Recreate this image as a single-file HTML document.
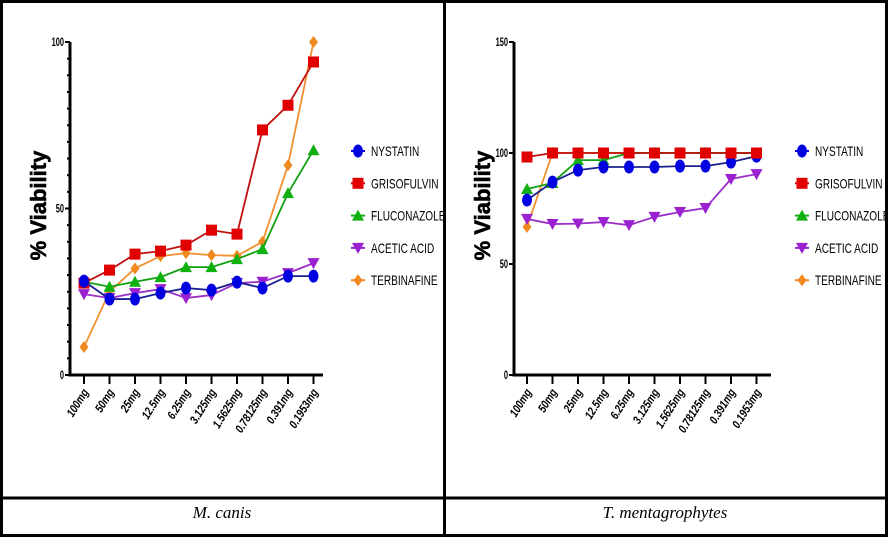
<!DOCTYPE html>
<html><head><meta charset="utf-8"><style>
html,body{margin:0;padding:0;background:#fff}
svg{display:block}
text{font-family:"Liberation Sans",sans-serif}
</style></head><body>
<svg id="s" width="888" height="537" viewBox="0 0 888 537" xmlns="http://www.w3.org/2000/svg">
<rect x="0" y="0" width="888" height="537" fill="#fff"/>
<g stroke="#000" stroke-width="3" fill="none">
<line x1="0" y1="1.5" x2="888" y2="1.5"/>
<line x1="1.5" y1="0" x2="1.5" y2="537"/>
<line x1="886.5" y1="0" x2="886.5" y2="537"/>
<line x1="444.5" y1="0" x2="444.5" y2="537"/>
<line x1="0" y1="498" x2="888" y2="498"/>
<line x1="0" y1="535.5" x2="888" y2="535.5"/>
</g>
<text x="222" y="518" font-style="italic" font-size="17" text-anchor="middle" style="font-family:'Liberation Serif',serif">M. canis</text>
<text x="665" y="518" font-style="italic" font-size="17" text-anchor="middle" style="font-family:'Liberation Serif',serif">T. mentagrophytes</text>
<g id="g"></g>
</svg>
<script>
const NS="http://www.w3.org/2000/svg",g=document.getElementById('g');
function el(t,a,txt){const e=document.createElementNS(NS,t);for(const k in a)e.setAttribute(k,a[k]);if(txt!=null)e.textContent=txt;g.appendChild(e);return e;}
const cats=["100mg","50mg","25mg","12.5mg","6.25mg","3.125mg","1.5625mg","0.78125mg","0.391mg","0.1953mg"];
const cols={blue:"#0000e0",red:"#e00000",green:"#10b010",purple:"#9a20d0",orange:"#f08a20"};
const lcols={blue:"#1a2090",red:"#c01010",green:"#10a010",purple:"#9a30c8",orange:"#f09030"};
function marker(type,x,y,c){
 if(type=="blue")el("ellipse",{cx:x,cy:y,rx:5,ry:6.5,fill:c});
 else if(type=="red")el("rect",{x:x-5.5,y:y-5.5,width:11,height:11,fill:c});
 else if(type=="green")el("polygon",{points:`${x},${y-6} ${x-6},${y+5} ${x+6},${y+5}`,fill:c});
 else if(type=="purple")el("polygon",{points:`${x-6},${y-5} ${x+6},${y-5} ${x},${y+6}`,fill:c});
 else el("polygon",{points:`${x},${y-6} ${x+4.5},${y} ${x},${y+6} ${x-4.5},${y}`,fill:c});
}
function chart(o){
 const {ax,x0,xr,top,bot,max,ticks,minor,data,lx,order}=o;
 const Y=v=>bot-(bot-top)*v/max, X=i=>x0+i*25.5;
 el("line",{x1:ax,y1:top,x2:ax,y2:bot+1.5,stroke:"#000","stroke-width":3});
 el("line",{x1:ax-1.5,y1:bot,x2:xr,y2:bot,stroke:"#000","stroke-width":3});
 ticks.forEach(v=>{el("line",{x1:ax-5,y1:Y(v),x2:ax,y2:Y(v),stroke:"#000","stroke-width":2});
   el("text",{x:ax-6,y:Y(v)+4,"font-size":12,"font-weight":"bold","text-anchor":"end",transform:`translate(${ax-6},0) scale(0.62,1) translate(${-(ax-6)},0)`},v);});
 minor.forEach(v=>el("line",{x1:ax-3,y1:Y(v),x2:ax,y2:Y(v),stroke:"#000","stroke-width":2}));
 cats.forEach((c,i)=>{const x=X(i);el("line",{x1:x,y1:bot,x2:x,y2:bot+9,stroke:"#000","stroke-width":2});
  el("text",{x:0,y:0,"font-size":12,"font-style":"italic","font-weight":"bold","text-anchor":"end",transform:`translate(${x+5},${bot+17}) rotate(-58) scale(0.8,1)`},c);});
 el("text",{x:0,y:0,"font-size":22,"font-weight":"bold","text-anchor":"middle",stroke:"#000","stroke-width":0.6,transform:`translate(${ax-24},${(top+bot)/2-3}) rotate(-90)`},"% Viability");
 order.forEach(k=>{const d=data[k];el("polyline",{points:d.map((v,i)=>X(i)+","+Y(v)).join(" "),fill:"none",stroke:lcols[k],"stroke-width":1.8});
   d.forEach((v,i)=>marker(k,X(i),Y(v),cols[k]));});
 const names=[["blue","NYSTATIN"],["red","GRISOFULVIN"],["green","FLUCONAZOLE"],["purple","ACETIC ACID"],["orange","TERBINAFINE"]];
 names.forEach((n,i)=>{const y=151+i*32.3;el("line",{x1:lx-7,y1:y,x2:lx+7,y2:y,stroke:cols[n[0]],"stroke-width":2});marker(n[0],lx,y,cols[n[0]]);
  el("text",{x:lx+13,y:y+5,"font-size":14,transform:`translate(${lx+13},0) scale(0.72,1) translate(${-(lx+13)},0)`},n[1]);});
}
chart({ax:70,x0:84,xr:323,top:42,bot:375,max:100,ticks:[0,50,100],minor:[10,20,30,40,60,70,80,90,5,15,25,35,45,55,65,75,85,95],lx:358,
 order:["orange","green","red","purple","blue"],
 data:{red:[27.6,31.5,36.3,37.2,39,43.5,42.3,73.6,81,94],
 orange:[8.4,25,32,35.7,36.6,36,35.8,40,63,100],
 green:[28,26.5,28,29.4,32.4,32.4,34.8,37.8,54.6,67.5],
 purple:[24.3,23.1,24.6,25.8,23.1,24,27.6,28,30.6,33.6],
 blue:[28.2,22.8,22.8,24.6,26.1,25.5,27.9,26.1,29.7,29.7]}});
chart({ax:514,x0:527,xr:771,top:42,bot:375,max:150,ticks:[0,50,100,150],minor:[],lx:802,
 order:["orange","green","blue","purple","red"],
 data:{red:[98.2,100,100,100,100,100,100,100,100,100],
 orange:[66.7,100,100,100,100,100,100,100,100,100],
 green:[83.8,86.5,96.8,96.8,100,100,100,100,100,100],
 blue:[78.8,86.9,92.3,93.7,93.7,93.7,94.1,94.1,95.9,98.6],
 purple:[70.3,68,68.2,68.9,67.5,71.2,73.4,75.2,88.3,90.5]}});
</script>
</body></html>
